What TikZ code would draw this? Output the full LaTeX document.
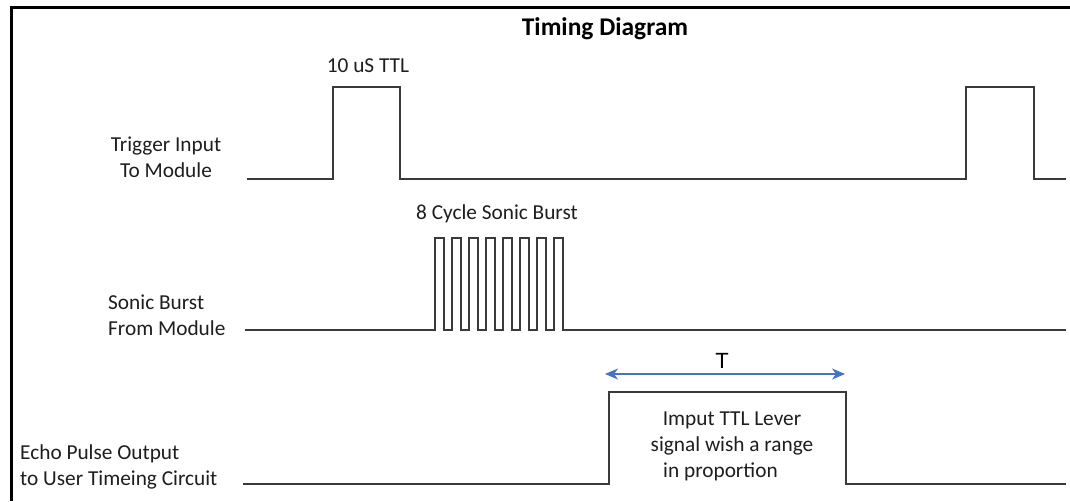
\documentclass[tikz,border=0pt]{standalone}
\usepackage{fontspec}
\setmainfont{Carlito}
\newfontfamily\arialfont{Liberation Sans}
\usetikzlibrary{arrows.meta}
\definecolor{wavegray}{HTML}{3A3A3A}
\definecolor{txtcol}{HTML}{1E1E1E}
\definecolor{arrowblue}{HTML}{4472C4}
\tikzset{
  wave/.style={draw=wavegray, line width=2pt, line join=miter},
  lbl/.style={text=txtcol, font=\fontsize{21.3}{26.5}\selectfont, inner sep=0pt},
  lblleft/.style={lbl, anchor=west, align=left},
  frameline/.style={draw=black, line width=3pt},
  tarrow/.style={draw=arrowblue, line width=1.3pt, {Stealth[length=13pt,width=11pt,inset=4pt]}-{Stealth[length=13pt,width=11pt,inset=4pt]}}
}
\begin{document}
\begin{tikzpicture}[x=1pt,y=-1pt]
\useasboundingbox (0,0) rectangle (1070,501);
\fill[white] (0,0) rectangle (1070,501);
% frame (left and top)
\draw[frameline] (11,501) -- (11,7) -- (1070,7);
% title
\node[lbl, font=\fontsize{25.5}{30}\selectfont\bfseries, text=black] (title) at (605,29) {Timing Diagram};
% labels
\node[lbl, align=center] (trig) at (166,157) {Trigger Input\\To Module};
\node[lblleft] (sonic) at (108,315) {Sonic Burst\\From Module};
\node[lblleft] (echo) at (20,467) {Echo Pulse Output\\to User Timeing Circuit};
\node[lbl] (ttl) at (368,66) {10 uS TTL};
\node[lbl] (burst) at (497,214) {8 Cycle Sonic Burst};
% trigger waveform
\draw[wave] (247,179) -- (333,179) -- (333,87) -- (400,87) -- (400,179) -- (966,179) -- (966,87) -- (1034,87) -- (1034,179) -- (1066,179);
% sonic burst waveform
\draw[wave] (245,330) foreach \k in {0,...,7} { -- ({435+17*\k},330) -- ({435+17*\k},238) -- ({444+17*\k},238) -- ({444+17*\k},330) } -- (1066,330);
% echo waveform
\draw[wave] (243,484) -- (609,484) -- (609,392) -- (846,392) -- (846,484) -- (1066,484);
% T arrow
\coordinate (ta) at (605,374);
\coordinate (tb) at (845,374);
\draw[tarrow] (ta) -- (tb);
\node[text=black, font=\arialfont\fontsize{22}{24}\selectfont, inner sep=0pt] (tlab) at (722,361) {T};
% pulse description
\node[lbl] (d1) at (732,420) {Imput TTL Lever};
\node[lbl] (d2) at (732,446) {signal wish a range};
\node[lbl, anchor=west] (d3) at (663,472) {in proportion};
\end{tikzpicture}
\end{document}
